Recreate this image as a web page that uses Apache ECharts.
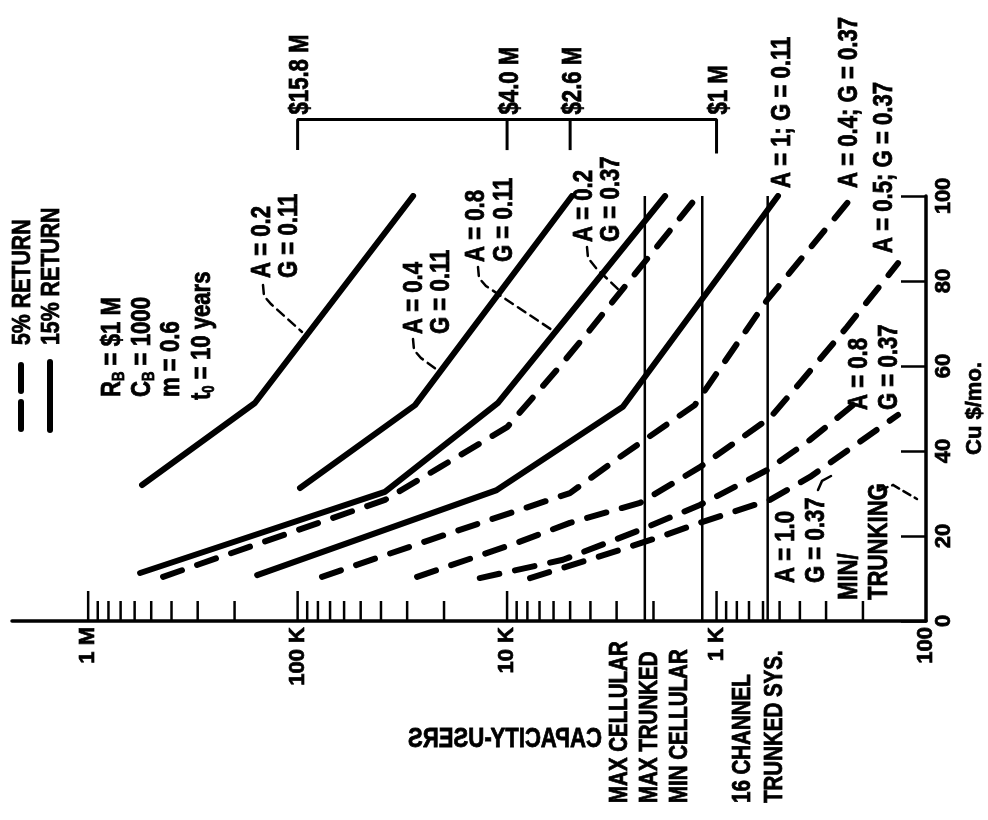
<!DOCTYPE html>
<html><head><meta charset="utf-8">
<script src="https://cdn.jsdelivr.net/npm/echarts@6/dist/echarts.min.js"></script>
<style>html,body{margin:0;padding:0;background:#fff}#c{width:988px;height:820px}</style>
</head><body><div id="c"></div>
<script>
// ---- axis ticks ----
const capTicks = [100, 1000, 10000, 100000, 1000000];
const capTickLabels = ['100', '1 K', '10 K', '100 K', '1 M'];

// ---- curves: [capacity (users), Cu ($/mo)] ----
// 15% return (solid)
const s15_A02_G011 = [[553000, 32], [160000, 51.3], [28100, 100]];
const s15_A04_G011 = [[97400, 31.3], [27500, 50.8], [4900, 100]];
const s15_A08_G011 = [[565000, 11.3], [38300, 30.4], [11050, 51.3], [1760, 100]];
const s15_A1_G011  = [[156000, 10.8], [11200, 30.8], [2800, 50.4], [509, 100]];
// 5% return (dashed)
const s5_A02_G037 = [[439000, 10.4], [38300, 28.5], [20900, 36.2], [10000, 45.6], [5780, 59.1], [4020, 68.5], [1230, 100]];
const s5_A04_G037 = [[76500, 10.4], [23300, 19.1], [9680, 25.4], [5010, 30.1], [2890, 38.6], [1270, 50.8], [574, 75.5], [223, 100]];
const s5_A05_G037 = [[26900, 10.4], [8970, 18.4], [5010, 23.1], [2320, 27.8], [1200, 36.2], [556, 47.8], [400, 56], [238, 69.2], [136, 84.2]];
const s5_A08_G037 = [[13500, 10.1], [5410, 14.4], [2320, 21.4], [1200, 27.3], [574, 35.5], [358, 42.6], [223, 50.8]];
const s5_A10_G037 = [[7770, 10.1], [3120, 16.2], [1860, 19.8], [1200, 23.1], [556, 28.5], [358, 33.9], [136, 48.5]];

// ---- reference system capacities ----
const refNames = ['MAX CELLULAR / MAX TRUNKED', 'MIN CELLULAR', '16 CHANNEL TRUNKED SYS.'];
const refCaps = [2200, 1170, 570];

// ---- cost scale (R = $1M * (C/1000)^0.6) ----
const costCaps = [100000, 10000, 5000, 1000];
const costLabels = ['$15.8 M', '$4.0 M', '$2.6 M', '$1 M'];

const FONT = "'Liberation Sans',Arial,sans-serif";
const chart = echarts.init(document.getElementById('c'));

function solid(name, data) {
  return {type: 'line', name, data, symbol: 'none', silent: true, z: 3,
    lineStyle: {color: '#000', width: 6, cap: 'round', join: 'round'}};
}
function dashed(name, data) {
  return {type: 'line', name, data, symbol: 'none', silent: true, z: 3,
    lineStyle: {color: '#000', width: 6, cap: 'round', join: 'round', type: [20, 16]}};
}
function thin(name, data, w) {
  return {type: 'line', name, data, symbol: 'none', silent: true, clip: false, z: 2,
    lineStyle: {color: '#000', width: w || 2.5}};
}

// log-axis small ticks (2..9 per decade)
const tickData = [];
for (let e = 2; e <= 6; e++) {
  for (let k = 1; k <= 9; k++) {
    const v = k * Math.pow(10, e);
    if (v > 100 && v <= 1000000) tickData.push([v, k === 1 ? 1 : 0]);
  }
}

const series = [
  solid('15% A=0.2 G=0.11', s15_A02_G011),
  solid('15% A=0.4 G=0.11', s15_A04_G011),
  solid('15% A=0.8 G=0.11', s15_A08_G011),
  solid('15% A=1 G=0.11', s15_A1_G011),
  dashed('5% A=0.2 G=0.37', s5_A02_G037),
  dashed('5% A=0.4 G=0.37', s5_A04_G037),
  dashed('5% A=0.5 G=0.37', s5_A05_G037),
  dashed('5% A=0.8 G=0.37', s5_A08_G037),
  dashed('5% A=1.0 G=0.37', s5_A10_G037),
  {type: 'custom', name: 'ticks', data: tickData, silent: true, z: 4,
    renderItem: function (params, api) {
      const p = api.coord([api.value(0), 0]);
      const len = api.value(1) === 1 ? 30 : 20;
      return {type: 'line', shape: {x1: p[0], y1: p[1], x2: p[0], y2: p[1] - len},
        style: {stroke: '#000', lineWidth: 2.5}};
    }}
];
refCaps.forEach((c, i) => series.push(thin(refNames[i], [[c, 0], [c, 100]], 2.5)));
// cost scale: bar across the top with drop ticks
const COST_Y = 118, COST_T = 110.8;
series.push(thin('cost scale', [[costCaps[0], COST_T], [costCaps[0], COST_Y], [costCaps[costCaps.length - 1], COST_Y], [costCaps[costCaps.length - 1], COST_T - 0.8]], 3));
for (let i = 1; i < costCaps.length - 1; i++) series.push(thin('cost tick', [[costCaps[i], COST_Y], [costCaps[i], COST_T]], 3));

const labelStyle = {color: '#000', fontSize: 22, fontWeight: 'bold', fontFamily: FONT, textBorderColor: '#000', textBorderWidth: 0.7};
chart.setOption({
  animation: false,
  backgroundColor: '#fff',
  grid: {left: 12, right: 62, top: 196, bottom: 199, containLabel: false, outerBoundsMode: 'none'},
  xAxis: {
    type: 'log', logBase: 10, min: 100, max: 2.31e6, inverse: true,
    axisLine: {lineStyle: {color: '#000', width: 3.5}},
    axisTick: {show: false}, splitLine: {show: false},
    axisLabel: Object.assign({
      rotate: 90, margin: 6,
      formatter: function (v) { const i = capTicks.indexOf(Math.round(v)); return i >= 0 ? capTickLabels[i] : ''; }
    }, labelStyle)
  },
  yAxis: {
    type: 'value', position: 'right', min: 0, max: 100, interval: 20,
    axisLine: {show: true, lineStyle: {color: '#000', width: 3.5}},
    axisTick: {show: true, inside: true, length: 25, lineStyle: {color: '#000', width: 2.5}},
    splitLine: {show: false},
    axisLabel: Object.assign({rotate: 90, margin: 7}, labelStyle),
    name: 'Cu $/mo.', nameLocation: 'middle', nameRotate: 90, nameGap: 36,
    nameTextStyle: labelStyle
  },
  series: series
});

// ---- annotation texts ----
const FS = 27, SX = 0.82;
function vt(x, y, text, fs, rich) {
  const st = {text: text, fill: '#000', stroke: '#000', lineWidth: 0.8, font: 'bold ' + (fs || FS) + 'px ' + FONT,
    textAlign: 'left', textVerticalAlign: 'middle', align: 'left', verticalAlign: 'middle'};
  if (rich) st.rich = rich;
  return {type: 'text', x: x, y: y, rotation: Math.PI / 2, scaleX: SX, z: 10, style: st};
}
const subRich = {
  n: {fontSize: FS, fontWeight: 'bold', fontFamily: FONT, lineHeight: 30, verticalAlign: 'middle'},
  s: {fontSize: 16, fontWeight: 'bold', fontFamily: FONT, lineHeight: 16, verticalAlign: 'bottom'}
};
function pl(points, dash, w) {
  return {type: 'polyline', z: 9, shape: {points: points},
    style: {stroke: '#000', lineWidth: w || 2.5, fill: null, lineDash: dash || null, lineCap: 'round'}};
}
const g = [
  // legend
  {type: 'line', z: 9, shape: {x1: 21, y1: 365, x2: 21, y2: 391}, style: {stroke: '#000', lineWidth: 6, lineCap: 'round'}},
  {type: 'line', z: 9, shape: {x1: 21, y1: 402, x2: 21, y2: 429}, style: {stroke: '#000', lineWidth: 6, lineCap: 'round'}},
  {type: 'line', z: 9, shape: {x1: 50, y1: 362, x2: 50, y2: 430}, style: {stroke: '#000', lineWidth: 6, lineCap: 'round'}},
  vt(23, 345, '5% RETURN', 26),
  vt(52, 345, '15% RETURN', 26),
  // parameters
  vt(113, 397, '{n|R}{s|B}{n| = $1 M}', FS, subRich),
  vt(143, 397, '{n|C}{s|B}{n| = 1000}', FS, subRich),
  vt(172, 397, 'm = 0.6'),
  vt(203, 400, '{n|t}{s|0}{n| = 10 years}', FS, subRich),
  // curve labels
  vt(263, 278, 'A = 0.2'), vt(290, 278, 'G = 0.11'),
  vt(415, 334, 'A = 0.4'), vt(442, 334, 'G = 0.11'),
  vt(477, 262, 'A = 0.8'), vt(505, 262, 'G = 0.11'),
  vt(585, 242, 'A = 0.2'), vt(612, 242, 'G = 0.37'),
  vt(783, 188, 'A = 1; G = 0.11'),
  vt(850, 188, 'A = 0.4; G = 0.37'),
  vt(885, 253, 'A = 0.5; G = 0.37'),
  vt(860, 410, 'A = 0.8'), vt(890, 410, 'G = 0.37'),
  vt(787, 583, 'A = 1.0'), vt(817, 583, 'G = 0.37'),
  vt(850, 600, 'MIN/'), vt(880, 600, 'TRUNKING'),
  // system labels
  vt(620, 803, 'MAX CELLULAR', 25), vt(650, 803, 'MAX TRUNKED', 25), vt(680, 803, 'MIN CELLULAR', 25),
  vt(743, 803, '16 CHANNEL', 25), vt(775, 803, 'TRUNKED SYS.', 25),
  // mirrored axis title
  {type: 'text', x: 505, y: 740, scaleX: -0.82, z: 10,
    style: {text: 'CAPACITY-USERS', fill: '#000', stroke: '#000', lineWidth: 0.8, font: 'bold 27px ' + FONT,
      textAlign: 'center', textVerticalAlign: 'middle', align: 'center', verticalAlign: 'middle'}},
  // leaders
  pl([[263, 285], [264, 296], [271, 304], [302, 332]], [9, 6]),
  pl([[413, 339], [414, 350], [421, 358], [436, 369]], [9, 6]),
  pl([[478, 267], [479, 278], [486, 286], [555, 332]], [9, 6]),
  pl([[587, 247], [588, 258], [596, 268], [622, 293]], [9, 6]),
  pl([[818, 490], [822, 481], [831, 476]]),
  pl([[880, 490], [893, 485], [917, 499]], [8, 5])
];
costCaps.forEach((c, i) => {
  const p = chart.convertToPixel({gridIndex: 0}, [c, COST_Y]);
  g.push(vt(p[0] + 3, p[1] - 5, costLabels[i]));
});
chart.setOption({graphic: g});
</script></body></html>
